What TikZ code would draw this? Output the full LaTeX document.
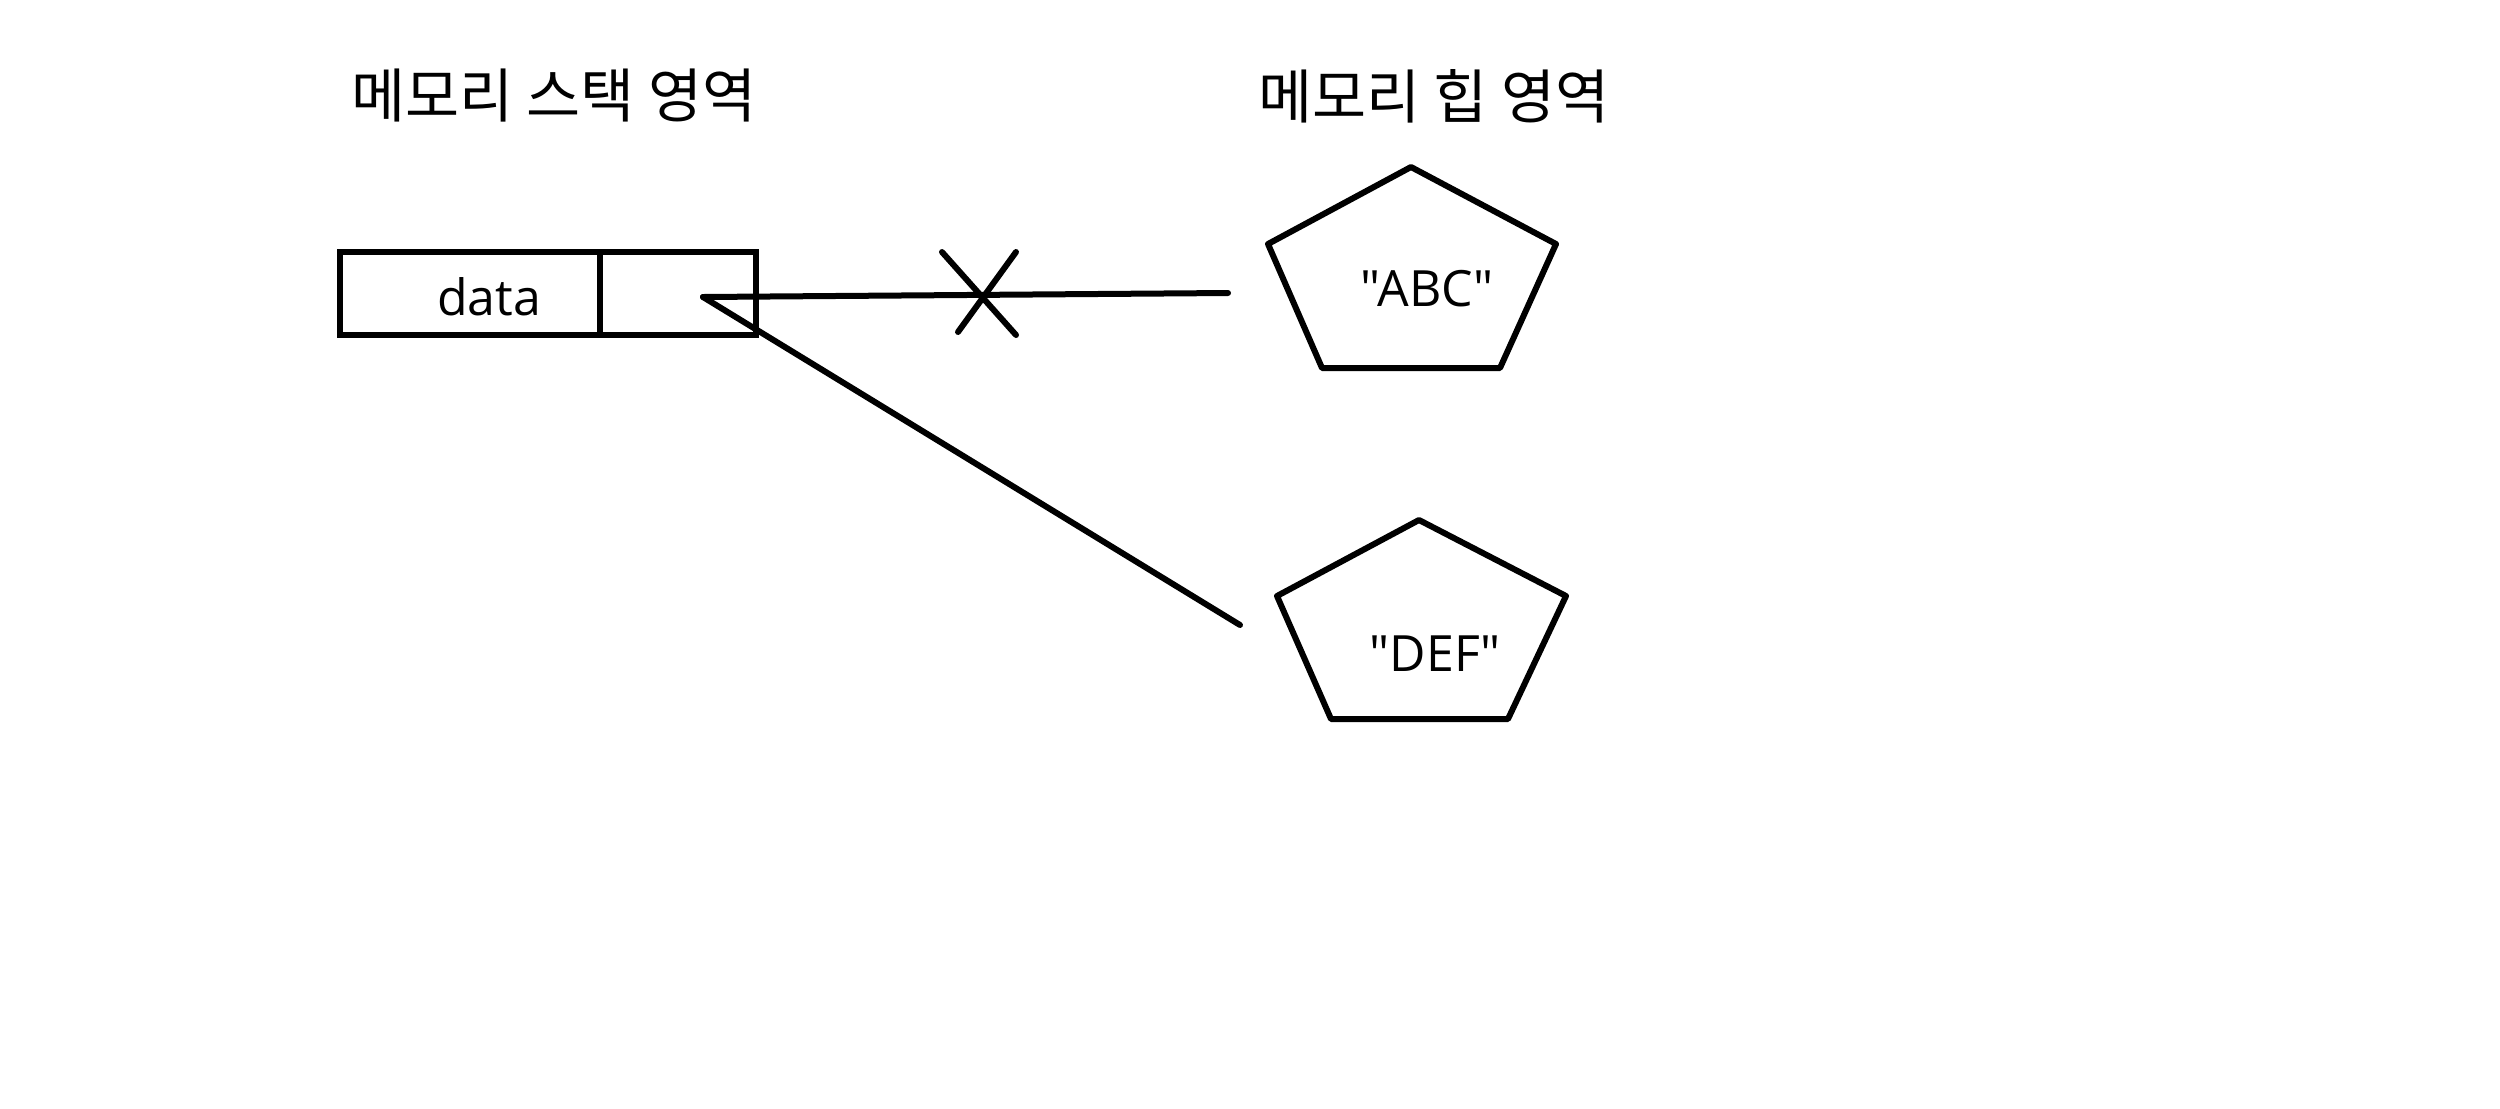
\documentclass[tikz,border=0pt]{standalone}
\usepackage{fontspec}
\setmainfont{Open Sans}[Ligatures=TeXOff]
\newfontfamily\krfont{Noto Sans CJK KR}
\begin{document}
\begin{tikzpicture}[x=0.4pt,y=-0.4pt,
  ln/.style={line width=2.4pt,line cap=round,line join=round},
  cell/.style={draw,line width=2.4pt,minimum height=83*0.4pt,inner sep=0pt,outer sep=0pt,anchor=north west},
  lbl/.style={font=\fontsize{20}{24}\selectfont,inner sep=0pt},
  title/.style={font=\krfont\fontsize{23.5}{28}\selectfont,inner sep=0pt,anchor=west}]
\useasboundingbox (0,0) rectangle (2500,1108);
% titles
\node[title] (t1) at (351,96) {메모리 스택 영역};
\node[title] (t2) at (1258,96) {메모리 힙 영역};
% stack cells
\node[cell,minimum width=260*0.4pt] (c1) at (340,252) {};
\node[cell,minimum width=156*0.4pt] (c2) at (600,252) {};
\node[lbl] (d) at (489,297) {data};
% pentagons
\draw[ln] (1411,167) -- (1556,244) -- (1500,368) -- (1322,368) -- (1268,244) -- cycle;
\node[lbl] (abc) at (1427,289) {"ABC"};
\draw[ln] (1419,520) -- (1566,596) -- (1508,719) -- (1331,719) -- (1277,596) -- cycle;
\node[lbl] (def) at (1435,654) {"DEF"};
% connectors
\coordinate (p) at (703,297);
\coordinate (ea) at (1228,293);
\coordinate (ed) at (1240,625);
\draw[ln] (p) -- (ea);
\draw[ln] (p) -- (ed);
% cross mark
\coordinate (x1) at (942,252);
\coordinate (x2) at (1016,335);
\coordinate (x3) at (1016,252);
\coordinate (x4) at (958,332);
\draw[ln] (x1) -- (x2);
\draw[ln] (x3) -- (x4);
\end{tikzpicture}
\end{document}
